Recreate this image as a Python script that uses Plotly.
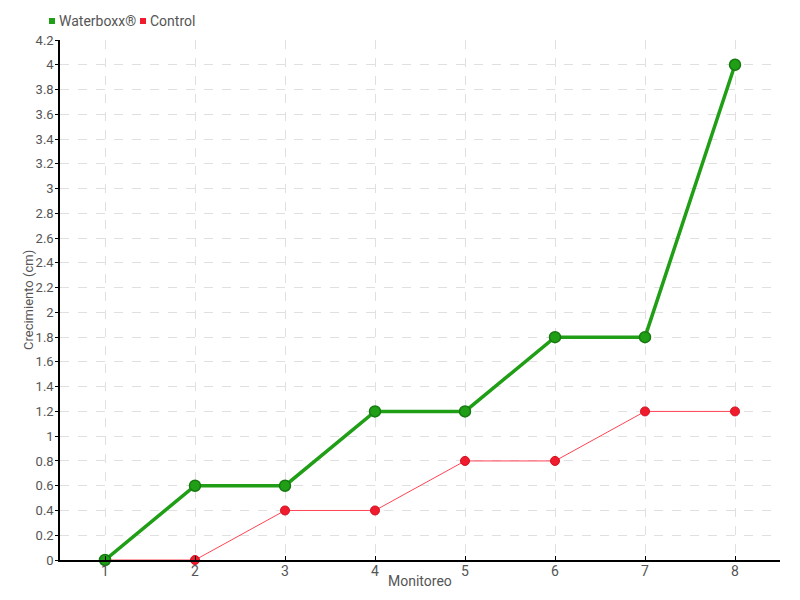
import plotly.graph_objects as go

monitoreo = [1, 2, 3, 4, 5, 6, 7, 8]
waterboxx = [0, 0.6, 0.6, 1.2, 1.2, 1.8, 1.8, 4.0]
control = [0, 0, 0.4, 0.4, 0.8, 0.8, 1.2, 1.2]
y_ticks = [round(i * 0.2, 1) for i in range(22)]
y_labels = [("%g" % v) for v in y_ticks]
series_names = ["Waterboxx®", "Control"]
x_title = "Monitoreo"
y_title = "Crecimiento (cm)"

GREEN = "#1f9e16"
GREEN_DARK = "#167a10"
RED = "#f01b2d"
TEXT = "#555555"

FONT = "Roboto, sans-serif"

# page body has an 8px margin: compensate so the plot lands where the reference has it
OFF = 8
W, H = 800 - OFF, 600 - OFF
L, T, R, B = 60 - OFF, 40 - OFF, 20, 40
PW, PH = W - L - R, H - T - B

fig = go.Figure()
fig.add_trace(go.Scatter(x=monitoreo, y=control, mode="lines+markers", name=series_names[1],
                         line=dict(color="#ff4455", width=1),
                         marker=dict(color=RED, size=9, line=dict(color="#d01020", width=1)),
                         showlegend=False, cliponaxis=False))
fig.add_trace(go.Scatter(x=monitoreo, y=waterboxx, mode="lines+markers", name=series_names[0],
                         line=dict(color=GREEN, width=3.5),
                         marker=dict(color=GREEN, size=11, line=dict(color=GREEN_DARK, width=1.5)),
                         showlegend=False, cliponaxis=False))

# compact legend (squares + text) in the top margin
legend_items = [(series_names[0], GREEN, 52), (series_names[1], RED, 143)]
ly = 21  # window pixel y of legend row
for name, col, px in legend_items:
    cx = (px - 60) / PW
    cy = (560 - ly) / PH
    fig.add_shape(type="rect", xref="paper", yref="paper",
                  x0=cx - 3 / PW, x1=cx + 3 / PW, y0=cy - 3 / PH, y1=cy + 3 / PH,
                  fillcolor=col, line=dict(width=0))
    fig.add_annotation(text=name, xref="paper", yref="paper",
                       x=cx + 5 / PW, y=cy, xanchor="left", yanchor="middle",
                       showarrow=False, font=dict(size=14, color=TEXT))

# axis titles
fig.add_annotation(text=x_title, xref="paper", yref="paper", x=0.5, y=-21 / PH,
                   xanchor="center", yanchor="middle", showarrow=False,
                   font=dict(size=14, color=TEXT))
fig.add_annotation(text=y_title, xref="paper", yref="paper", x=-32 / PW, y=0.5,
                   xanchor="center", yanchor="middle", textangle=-90, showarrow=False,
                   font=dict(size=13, color=TEXT))

fig.update_layout(
    width=W, height=H,
    margin=dict(l=L, r=R, t=T, b=B, autoexpand=False),
    paper_bgcolor="white", plot_bgcolor="white",
    font=dict(family=FONT, size=14, color=TEXT),
    showlegend=False,
)
fig.update_xaxes(range=[0.5, 8.5], tickvals=monitoreo, ticktext=[str(m) for m in monitoreo],
                 showline=True, linecolor="black", linewidth=1.5,
                 ticks="inside", ticklen=4, tickcolor="black", ticklabelstandoff=-3,
                 showgrid=True, gridcolor="#e0e0e0", griddash="dash", zeroline=False)
fig.update_yaxes(range=[0, 4.2], tickvals=y_ticks, ticktext=y_labels,
                 showline=True, linecolor="black", linewidth=1.5,
                 ticks="outside", ticklen=3, tickcolor="black", ticklabelstandoff=-1,
                 tickfont=dict(size=13),
                 showgrid=True, gridcolor="#e0e0e0", griddash="dash", zeroline=False)

fig.write_html("out.html")
